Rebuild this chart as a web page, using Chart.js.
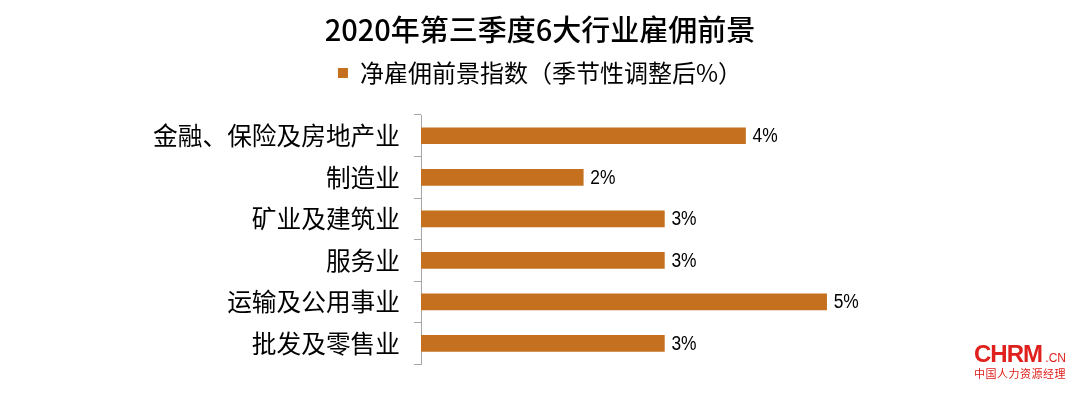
<!DOCTYPE html>
<html>
<head>
<meta charset="utf-8">
<script src="https://cdn.jsdelivr.net/npm/chart.js@4"></script>
<style>
  html, body { margin: 0; padding: 0; background: #fff; }
  #wrap { position: relative; width: 1080px; height: 393px; }
  #mark { position: absolute; left: 974px; top: 340px; color: #e0201c; font-family: "Liberation Sans", Arial, sans-serif; }
  #mark .big { font-size: 24px; font-weight: bold; letter-spacing: -1px; }
  #mark .cn { font-size: 12px; }
  #mark .sub { font-family: "Noto Sans CJK SC", sans-serif; font-size: 11px; margin-top: -3px; letter-spacing: 0.5px; }
</style>
</head>
<body>
<div id="wrap">
  <canvas id="chart" width="1080" height="393"></canvas>
  <div id="mark"><span class="big">CHRM</span><span class="cn"> .CN</span><div class="sub">中国人力资源经理</div></div>
</div>
<script>
// data
const industries = ['金融、保险及房地产业', '制造业', '矿业及建筑业', '服务业', '运输及公用事业', '批发及零售业'];
const outlook = [4, 2, 3, 3, 5, 3];
const seriesName = '净雇佣前景指数（季节性调整后%）';
const chartTitle = '2020年第三季度6大行业雇佣前景';

const cjk = '"Noto Sans CJK SC", "Noto Sans", sans-serif';

// draw the % labels at the end of each bar (a bit condensed, like the original)
const barLabels = {
	id: 'barLabels',
	afterDatasetsDraw(chart) {
		const ctx = chart.ctx;
		const meta = chart.getDatasetMeta(0);
		ctx.save();
		ctx.font = '20px "Liberation Sans", Arial, sans-serif';
		ctx.fillStyle = '#000';
		ctx.textAlign = 'left';
		ctx.textBaseline = 'middle';
		meta.data.forEach((bar, i) => {
			ctx.save();
			ctx.translate(bar.x + 7, bar.y + 1);
			ctx.scale(0.87, 1);
			ctx.fillText(outlook[i] + '%', 0, 0);
			ctx.restore();
		});
		ctx.restore();
	}
};

// extra room under the legend
const legendGap = {
	id: 'legendGap',
	beforeInit(chart) {
		const fit = chart.legend.fit;
		chart.legend.fit = function() {
			fit.bind(chart.legend)();
			this.height += 20;
		};
	}
};

new Chart(document.getElementById('chart'), {
	type: 'bar',
	data: {
		labels: industries,
		datasets: [{
			label: seriesName,
			data: outlook,
			backgroundColor: '#C4701F',
			barThickness: 16
		}]
	},
	options: {
		indexAxis: 'y',
		responsive: false,
		animation: false,
		layout: { padding: { left: 10, right: 10, top: 0, bottom: 28 } },
		plugins: {
			tooltip: { enabled: false },
			title: {
				display: true,
				text: chartTitle,
				color: '#000',
				font: { family: cjk, size: 29, weight: '500' },
				padding: { top: 13, bottom: 0 }
			},
			legend: {
				display: true,
				labels: {
					color: '#000',
					font: { family: cjk, size: 24 },
					boxWidth: 10,
					boxHeight: 10,
					padding: 13.2
				}
			}
		},
		scales: {
			x: {
				display: false,
				min: 0,
				max: 8
			},
			y: {
				afterFit(scale) { scale.width = 411; },
				grid: {
					drawOnChartArea: false,
					tickLength: 7,
					color: '#a6a6a6'
				},
				border: { color: '#a6a6a6' },
				ticks: {
					color: '#000',
					padding: 14,
					font: { family: cjk, size: 24.7 }
				}
			}
		}
	},
	plugins: [barLabels, legendGap]
});
</script>
</body>
</html>
